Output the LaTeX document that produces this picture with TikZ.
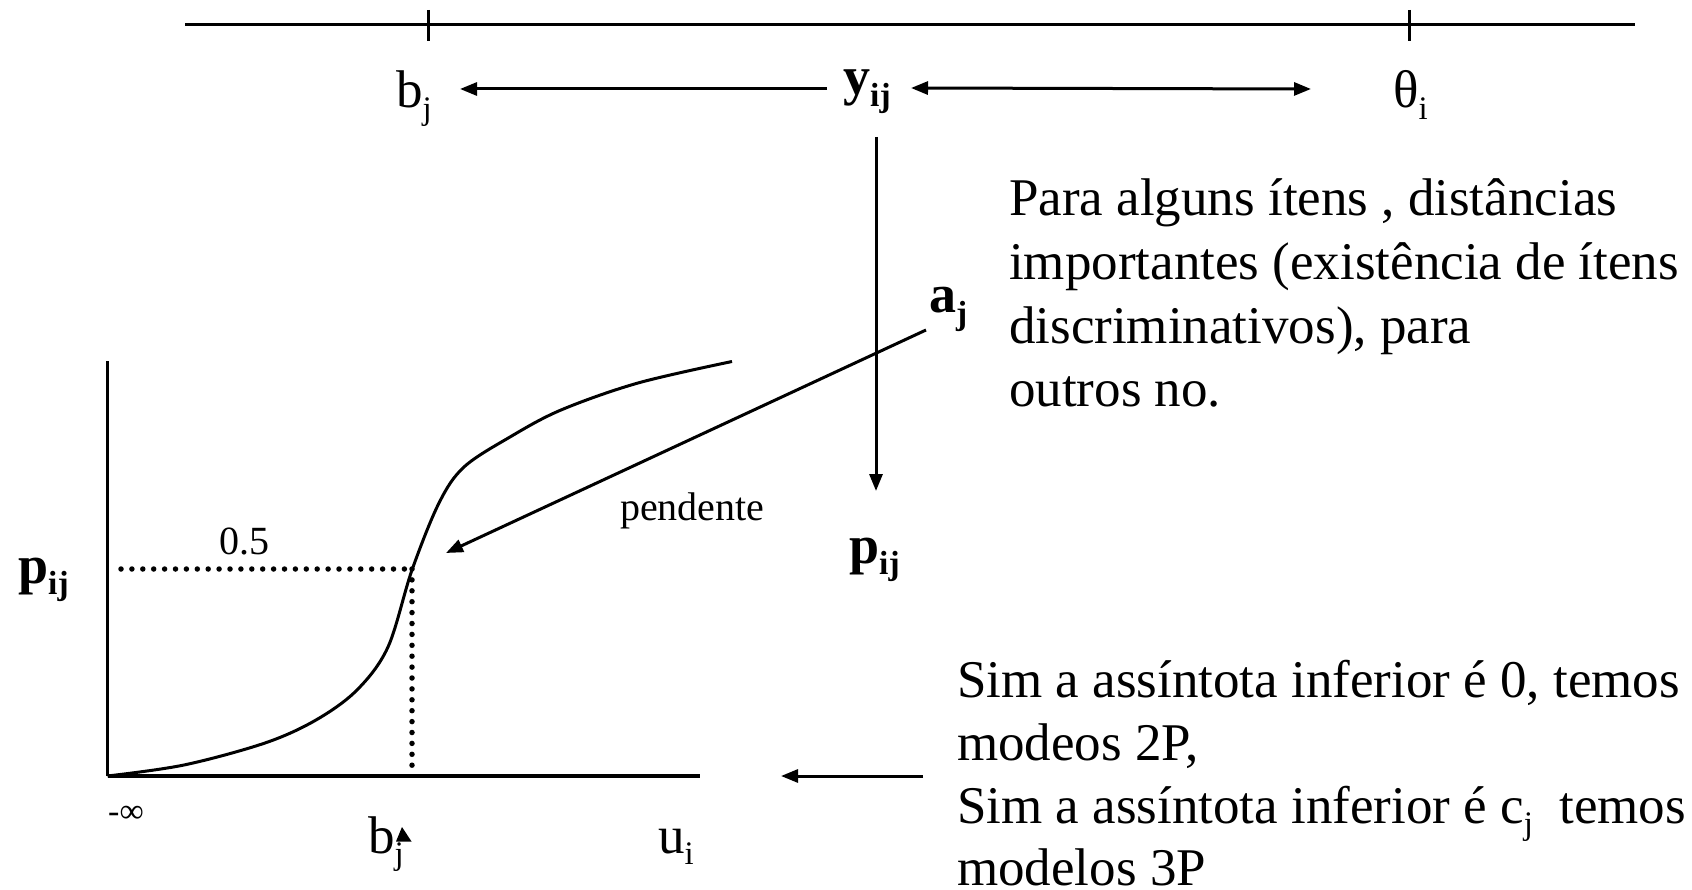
\documentclass[tikz,border=0pt]{standalone}
\usepackage{fontspec}
\setmainfont{Liberation Serif}
\usetikzlibrary{arrows.meta}
\newcommand{\lowsub}[1]{\raisebox{-0.22em}{\scalebox{0.62}{#1}}}
\begin{document}
\begin{tikzpicture}[x=1pt,y=-1pt,
  every node/.style={inner sep=0pt,anchor=base west,font=\fontsize{53}{63.6}\selectfont},
  bigb/.style={font=\fontsize{54}{63.6}\selectfont\bfseries},
  small/.style={font=\fontsize{40}{48}\selectfont},
  tiny/.style={font=\fontsize{34}{40}\selectfont},
  ln/.style={line width=3pt},
  arr/.style={line width=3pt,-{Triangle[length=17pt,width=13pt]}},
  dotline/.style={line width=5.5pt,line cap=round,dash pattern=on 0pt off 10.9pt}]
\useasboundingbox (0,0) rectangle (1692,890);

% top scale
\coordinate (topL) at (185,25);
\coordinate (topR) at (1635,25);
\coordinate (tickA1) at (428,10);
\coordinate (tickA2) at (428,41);
\coordinate (tickB1) at (1409,10);
\coordinate (tickB2) at (1409,41);
\draw[line width=3pt] (topL) -- (topR);
\draw[ln] (tickA1) -- (tickA2);
\draw[ln] (tickB1) -- (tickB2);

% labels
\node (bj) at (396,108) {b\lowsub{j}};
\node[bigb] (yij) at (843,95) {y\lowsub{ij}};
\node (thi) at (1393,108) {θ\lowsub{i}};
\node[bigb] (aj) at (929,313) {a\lowsub{j}};
\node[bigb] (pij) at (849,563) {p\lowsub{ij}};
\node[bigb] (pl) at (18,583) {p\lowsub{ij}};
\node[small] (pend) at (620,520) {pendente};
\node[small] (half) at (219,554) {0.5};
\node[tiny] (minf) at (108,822) {-∞};
\node (bj2) at (368,853) {b\lowsub{j}};
\node (ui) at (658,853) {u\lowsub{i}};

% arrows at top
\coordinate (yL) at (827,89);
\coordinate (bjT) at (460,89);
\draw[arr] (yL) -- (bjT);
\coordinate (dL) at (911,88);
\coordinate (dR) at (1311,89);
\draw[line width=3pt,{Triangle[length=17pt,width=13pt]}-{Triangle[length=17pt,width=13pt]}] (dL) -- (dR);
\coordinate (vTop) at (876,137);
\coordinate (vBot) at (876,491);
\draw[arr] (vTop) -- (vBot);

% axes
\coordinate (O) at (107.5,776);
\coordinate (Ytop) at (107.5,361);
\coordinate (Xend) at (700,776);
\draw[line width=2.5pt] (O) -- (Ytop);
\draw[line width=3.2pt] (O) -- (Xend);

% curve
\draw[ln] plot[smooth,tension=0.55] coordinates {(107.5,776) (184,765) (265,743) (316,720) (357,690) (388,647) (412,570) (439,503) (464,467) (510,437) (561,410) (638,383) (732,361.5)};

% dotted guides
\coordinate (dH1) at (121,569);
\coordinate (M) at (412,569);
\coordinate (dV2) at (412,773);
\draw[dotline] (dH1) -- (M);
\draw[dotline] (M) -- (dV2);

% slope arrow
\coordinate (ajS) at (926,330);
\coordinate (ajT) at (446,553);
\draw[arr] (ajS) -- (ajT);

% bottom arrow
\coordinate (bS) at (923,776);
\coordinate (bT) at (781,776);
\draw[arr] (bS) -- (bT);

% small arrowhead at b_j
\fill (402,827) -- (411.5,841.5) -- (396,841.5) -- cycle;

% text blocks
\node (t1) at (1009,216) {Para alguns ítens , distâncias};
\node (t2) at (1009,279.6) {importantes (existência de ítens};
\node (t3) at (1009,343.2) {discriminativos), para};
\node (t4) at (1009,406.8) {outros no.};

\node (s1) at (957,697) {Sim a assíntota inferior é 0, temos};
\node (s2) at (957,760) {modeos 2P,};
\node (s3) at (957,823) {Sim a assíntota inferior é c\lowsub{j}\ \ temos};
\node (s4) at (957,885) {modelos 3P};
\end{tikzpicture}
\end{document}
